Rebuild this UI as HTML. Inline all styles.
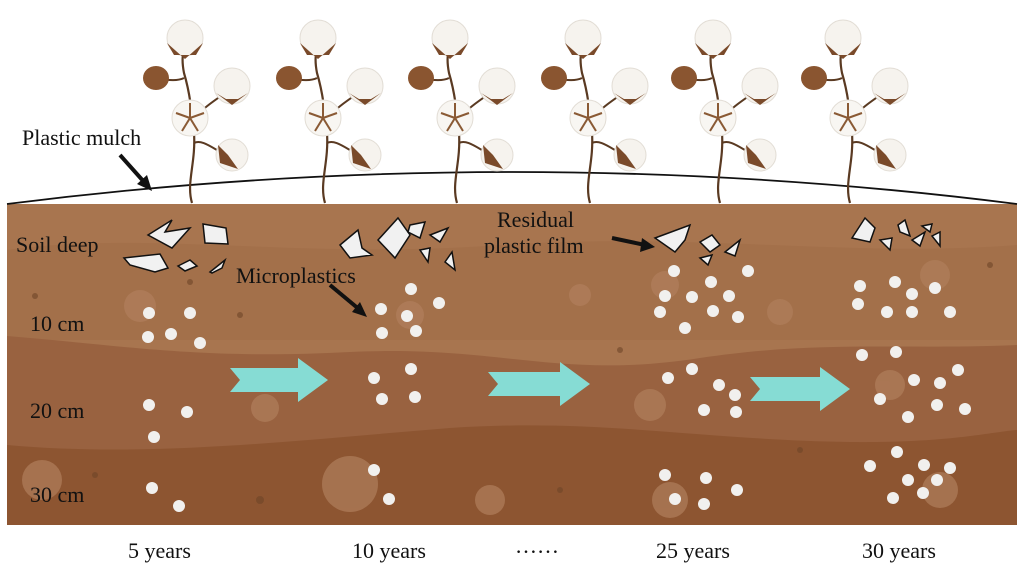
<!DOCTYPE html>
<html><head><meta charset="utf-8"><style>
body{margin:0;background:#fff;}
svg{display:block;}
text{font-family:"Liberation Serif",serif;fill:#111;}
</style></head><body>
<svg width="1024" height="573" viewBox="0 0 1024 573" xmlns="http://www.w3.org/2000/svg">
<defs>
<g id="plant">
 <path d="M0,0 C-6,-20 4,-40 2,-70 C0,-90 -2,-110 -8,-130 C-10,-140 -10,-150 -7,-158" stroke="#5a3a22" stroke-width="2.2" fill="none"/>
 <path d="M2,-60 C10,-64 20,-55 34,-48" stroke="#5a3a22" stroke-width="2" fill="none"/>
 <path d="M2,-80 C8,-95 20,-100 40,-115" stroke="#5a3a22" stroke-width="2" fill="none"/>
 <path d="M-8,-125 C-14,-122 -22,-122 -35,-125" stroke="#5a3a22" stroke-width="2" fill="none"/>
 <circle cx="-7" cy="-165" r="18" fill="#f6f3ee" stroke="#e2ddd5" stroke-width="1"/>
 <path d="M-25,-160 L-7,-144 L11,-160 L4,-148 L-18,-148Z" fill="#7a4a2a"/>
 <ellipse cx="-36" cy="-125" rx="13" ry="12" fill="#8a5530"/>
 <circle cx="40" cy="-117" r="18" fill="#f6f3ee" stroke="#e2ddd5" stroke-width="1"/>
 <path d="M24,-110 L40,-98 L56,-110 L46,-104 L34,-104Z" fill="#7a4a2a"/>
 <circle cx="-2" cy="-85" r="18" fill="#f8f6f2" stroke="#e2ddd5" stroke-width="1"/>
 <path d="M-2,-85 L-2,-100 M-2,-85 L-16,-90 M-2,-85 L12,-90 M-2,-85 L-10,-72 M-2,-85 L6,-72" stroke="#8a5a35" stroke-width="2"/>
 <circle cx="40" cy="-48" r="16" fill="#f6f3ee" stroke="#e2ddd5" stroke-width="1"/>
 <path d="M26,-58 L28,-40 L46,-34 L36,-48Z" fill="#7a4a2a"/>
</g>
</defs>
<rect x="7" y="204" width="1010" height="321" fill="#a8754f"/>
<path d="M7,250 C150,230 300,260 500,245 C700,232 850,258 1017,245 L1017,340 L7,340Z" fill="#a06c47" opacity="0.6"/>
<path d="M7,336 C120,345 200,360 350,352 C500,345 560,380 700,358 C820,340 900,350 1017,345 L1017,525 L7,525Z" fill="#996240"/>
<path d="M7,445 C150,458 300,440 450,428 C600,418 700,440 850,442 C950,443 990,432 1017,430 L1017,525 L7,525Z" fill="#8d5531"/>
<g fill="#b07f5c" opacity="0.7">
 <circle cx="140" cy="306" r="16"/><circle cx="42" cy="480" r="20"/><circle cx="350" cy="484" r="28"/><circle cx="490" cy="500" r="15"/>
 <circle cx="670" cy="500" r="18"/><circle cx="650" cy="405" r="16"/><circle cx="265" cy="408" r="14"/><circle cx="580" cy="295" r="11"/>
 <circle cx="780" cy="312" r="13"/><circle cx="935" cy="275" r="15"/><circle cx="890" cy="385" r="15"/><circle cx="940" cy="490" r="18"/><circle cx="665" cy="285" r="14"/><circle cx="410" cy="315" r="14"/>
</g>
<g fill="#6e4528" opacity="0.6">
 <circle cx="35" cy="296" r="3"/><circle cx="190" cy="282" r="3"/><circle cx="95" cy="475" r="3"/><circle cx="260" cy="500" r="4"/><circle cx="240" cy="315" r="3"/><circle cx="620" cy="350" r="3"/><circle cx="800" cy="450" r="3"/><circle cx="990" cy="265" r="3"/><circle cx="560" cy="490" r="3"/>
</g>
<path d="M7,204 Q512,140 1017,204" stroke="#111" stroke-width="1.8" fill="none"/>
<use href="#plant" x="192" y="203"/>
<use href="#plant" x="325" y="203"/>
<use href="#plant" x="457" y="203"/>
<use href="#plant" x="590" y="203"/>
<use href="#plant" x="720" y="203"/>
<use href="#plant" x="850" y="203"/>
<g fill="#f1f1f1" stroke="#111" stroke-width="1.5">
 <path d="M148,235 L172,220 L165,232 L190,228 L172,248Z"/>
 <path d="M203,224 L226,228 L228,244 L205,243Z"/>
 <path d="M124,258 L160,254 L168,268 L155,272 L130,265Z"/>
 <path d="M178,266 L190,260 L197,266 L185,271Z"/>
 <path d="M210,272 L225,260 L222,268 L212,273Z"/>
 <path d="M340,245 L358,230 L362,248 L372,255 L350,258Z"/>
 <path d="M378,240 L398,218 L410,235 L395,258Z"/>
 <path d="M410,225 L425,222 L420,238 L408,232Z"/>
 <path d="M430,235 L448,228 L440,242Z"/>
 <path d="M420,250 L430,248 L428,262Z"/>
 <path d="M445,262 L452,252 L455,270Z"/>
 <path d="M655,238 L690,225 L685,240 L675,252Z"/>
 <path d="M700,242 L712,235 L720,245 L710,252Z"/>
 <path d="M725,252 L740,240 L735,256Z"/>
 <path d="M700,258 L712,255 L708,265Z"/>
 <path d="M852,238 L865,218 L875,228 L870,242Z"/>
 <path d="M880,240 L892,238 L890,250Z"/>
 <path d="M898,225 L905,220 L910,236 L900,232Z"/>
 <path d="M912,240 L925,232 L920,246Z"/>
 <path d="M922,226 L932,224 L930,232Z"/>
 <path d="M932,236 L940,232 L940,246Z"/>
</g>
<g fill="#f1f0ee">
 <circle cx="149" cy="313" r="6"/><circle cx="190" cy="313" r="6"/><circle cx="148" cy="337" r="6"/><circle cx="171" cy="334" r="6"/><circle cx="200" cy="343" r="6"/>
 <circle cx="149" cy="405" r="6"/><circle cx="187" cy="412" r="6"/><circle cx="154" cy="437" r="6"/><circle cx="152" cy="488" r="6"/><circle cx="179" cy="506" r="6"/>
 <circle cx="411" cy="289" r="6"/><circle cx="439" cy="303" r="6"/><circle cx="381" cy="309" r="6"/><circle cx="407" cy="316" r="6"/><circle cx="382" cy="333" r="6"/><circle cx="416" cy="331" r="6"/>
 <circle cx="411" cy="369" r="6"/><circle cx="374" cy="378" r="6"/><circle cx="415" cy="397" r="6"/><circle cx="382" cy="399" r="6"/><circle cx="374" cy="470" r="6"/><circle cx="389" cy="499" r="6"/>
 <circle cx="674" cy="271" r="6"/><circle cx="711" cy="282" r="6"/><circle cx="748" cy="271" r="6"/><circle cx="665" cy="296" r="6"/><circle cx="692" cy="297" r="6"/><circle cx="729" cy="296" r="6"/><circle cx="660" cy="312" r="6"/><circle cx="713" cy="311" r="6"/><circle cx="738" cy="317" r="6"/><circle cx="685" cy="328" r="6"/>
 <circle cx="692" cy="369" r="6"/><circle cx="668" cy="378" r="6"/><circle cx="719" cy="385" r="6"/><circle cx="735" cy="395" r="6"/><circle cx="704" cy="410" r="6"/><circle cx="736" cy="412" r="6"/>
 <circle cx="665" cy="475" r="6"/><circle cx="706" cy="478" r="6"/><circle cx="675" cy="499" r="6"/><circle cx="704" cy="504" r="6"/><circle cx="737" cy="490" r="6"/>
 <circle cx="895" cy="282" r="6"/><circle cx="860" cy="286" r="6"/><circle cx="912" cy="294" r="6"/><circle cx="935" cy="288" r="6"/><circle cx="858" cy="304" r="6"/><circle cx="887" cy="312" r="6"/><circle cx="912" cy="312" r="6"/><circle cx="950" cy="312" r="6"/>
 <circle cx="862" cy="355" r="6"/><circle cx="896" cy="352" r="6"/><circle cx="958" cy="370" r="6"/><circle cx="914" cy="380" r="6"/><circle cx="940" cy="383" r="6"/><circle cx="880" cy="399" r="6"/><circle cx="937" cy="405" r="6"/><circle cx="965" cy="409" r="6"/><circle cx="908" cy="417" r="6"/>
 <circle cx="897" cy="452" r="6"/><circle cx="870" cy="466" r="6"/><circle cx="924" cy="465" r="6"/><circle cx="950" cy="468" r="6"/><circle cx="908" cy="480" r="6"/><circle cx="937" cy="480" r="6"/><circle cx="893" cy="498" r="6"/><circle cx="923" cy="493" r="6"/>
</g>
<g fill="#86dcd4">
 <path d="M230,368 L298,368 L298,358 L328,380 L298,402 L298,392 L230,392 L240,380Z"/>
 <path d="M488,372 L560,372 L560,362 L590,384 L560,406 L560,396 L488,396 L498,384Z"/>
 <path d="M750,377 L820,377 L820,367 L850,389 L820,411 L820,401 L750,401 L760,389Z"/>
</g>
<g stroke="#111" stroke-width="4">
 <line x1="120" y1="155" x2="145" y2="183"/>
 <line x1="330" y1="285" x2="360" y2="310"/>
 <line x1="612" y1="238" x2="645" y2="245"/>
</g>
<g fill="#111">
 <path d="M152,191 L137,184 L147,175Z"/>
 <path d="M367,317 L352,312 L360,302Z"/>
 <path d="M655,247 L640,252 L642,238Z"/>
</g>
<g font-size="22">
 <text x="22" y="145">Plastic mulch</text>
 <text x="16" y="252">Soil deep</text>
 <text x="236" y="283">Microplastics</text>
 <text x="497" y="227">Residual</text>
 <text x="484" y="253">plastic film</text>
 <text x="30" y="331">10 cm</text>
 <text x="30" y="418">20 cm</text>
 <text x="30" y="502">30 cm</text>
 <text x="128" y="558">5 years</text>
 <text x="352" y="558">10 years</text>
 <text x="515" y="553">……</text>
 <text x="656" y="558">25 years</text>
 <text x="862" y="558">30 years</text>
</g>
</svg>
</body></html>
